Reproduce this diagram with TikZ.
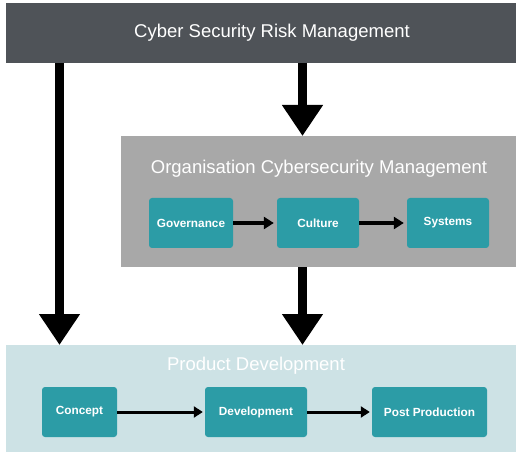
\documentclass[tikz,border=0pt]{standalone}
\usepackage{fontspec}
\setmainfont{Liberation Sans}
\usetikzlibrary{arrows.meta}
\definecolor{barDark}{HTML}{4F5358}
\definecolor{boxGray}{HTML}{A8A8A8}
\definecolor{tealBox}{HTML}{2C9CA6}
\definecolor{paleBlue}{HTML}{CDE2E5}
\tikzset{
  panel/.style={anchor=north west, inner sep=0pt, outer sep=0pt},
  title/.style={text=white, font=\fontsize{18.5}{20}\selectfont, inner sep=0pt},
  stage/.style={fill=tealBox, rounded corners=3pt, text=white, inner sep=0pt,
    font=\bfseries\fontsize{11.8}{13}\selectfont, minimum height=50pt},
  bigarrow/.style={line width=9pt, -{Triangle[length=31pt,width=39pt]}},
  smallarrow/.style={line width=3.6pt, shorten >=3pt, -{Triangle[length=10pt,width=12pt]}},
  smallarrowb/.style={line width=3pt, shorten >=2pt, -{Triangle[length=9pt,width=11pt]}},
}
\begin{document}
\begin{tikzpicture}[x=1pt,y=-1pt]
\useasboundingbox (0,0) rectangle (517,457);
% panels
\node[panel, fill=barDark, minimum width=510pt, minimum height=60pt] (risk) at (6,3) {};
\node[title] (riskT) at (272,33) {Cyber Security Risk Management};
\node[panel, fill=boxGray, minimum width=395pt, minimum height=131pt] (org) at (121,136) {};
\node[title] (orgT) at (319,169) {Organisation Cybersecurity Management};
\node[panel, fill=paleBlue, minimum width=510pt, minimum height=107pt] (prod) at (6,345) {};
\node[title] (prodT) at (256,366) {Product Development};
% stages
\node[stage, minimum width=84pt] (gov) at (191,223) {Governance};
\node[stage, minimum width=82pt] (cul) at (318,223) {Culture};
\node[stage, minimum width=82pt] (sys) at (448,223) {Systems};
\node[stage, minimum width=75pt] (con) at (79.5,412) {Concept};
\node[stage, minimum width=102pt] (dev) at (256,412) {Development};
\node[stage, minimum width=115pt] (post) at (429.5,412) {Post Production};
% coordinates for big arrows
\coordinate (lx) at (59.5,0);
\coordinate (mx) at (302.5,0);
\draw[bigarrow] (risk.south -| lx) -- (prod.north -| lx);
\draw[bigarrow] (risk.south -| mx) -- (org.north -| mx);
\draw[bigarrow] (org.south -| mx) -- (prod.north -| mx);
% small arrows
\draw[smallarrow] (gov) -- (cul);
\draw[smallarrow] (cul) -- (sys);
\draw[smallarrowb] (con) -- (dev);
\draw[smallarrowb] (dev) -- (post);
\end{tikzpicture}
\end{document}
